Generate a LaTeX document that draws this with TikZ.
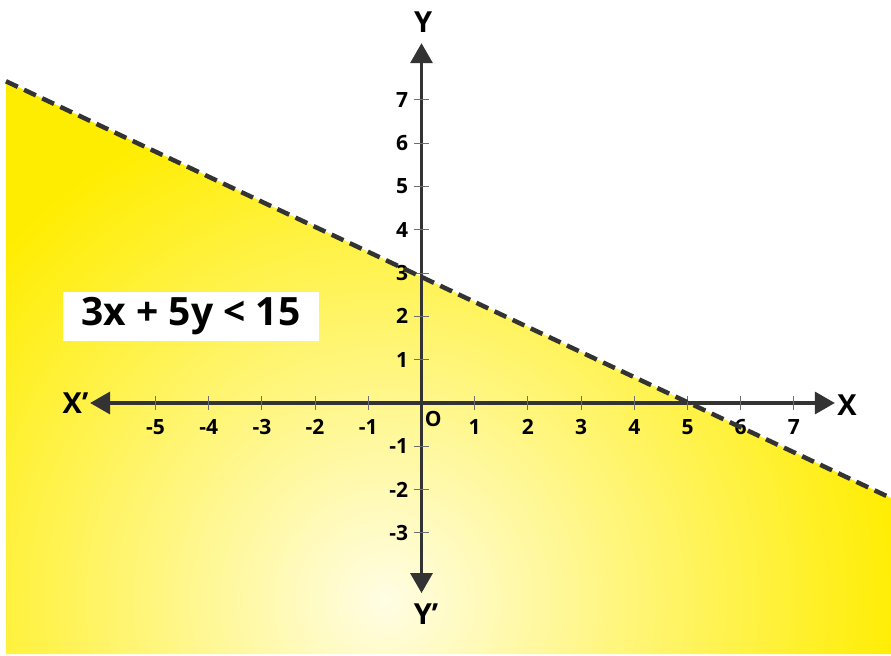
\documentclass[tikz,border=0pt]{standalone}
\usepackage{fontspec}
\setmainfont{Open Sans}
\usetikzlibrary{arrows.meta}
\definecolor{planeyellow}{RGB}{255,237,0}
\definecolor{planecream}{RGB}{255,253,228}
\definecolor{axisgray}{RGB}{51,51,51}
\definecolor{tickgray}{RGB}{110,110,110}

\begin{document}
\begin{tikzpicture}[x={(53.2pt,0pt)},y={(0pt,43.3pt)},
  axisline/.style={color=axisgray, line width=3.3pt, {Triangle[length=20pt,width=22pt]}-{Triangle[length=20pt,width=22pt]}},
  tickline/.style={color=tickgray, line width=1pt},
  boundary/.style={color=axisgray, line width=4.5pt, dash pattern=on 13pt off 7pt},
  ticklabel/.style={inner sep=0pt, font=\fontsize{21}{21}\selectfont\bfseries},
  axislabel/.style={inner sep=0pt, font=\fontsize{29}{29}\selectfont\bfseries}]
\useasboundingbox (-7.923,-5.82) rectangle (8.825,9.307);

\coordinate (lineL) at (-7.81,7.43);
\coordinate (lineR) at (8.825,-2.196);

% half plane 3x+5y<15
\begin{scope}
\clip (lineL) -- (lineR) -- (8.825,-5.797) -- (-7.81,-5.797) -- cycle;
\fill[planeyellow] (-7.81,-5.797) rectangle (8.825,7.43);
\shade[inner color=planecream, outer color=planeyellow] (-0.686,-4.55) circle (520pt);
\end{scope}

% axes
\coordinate (xneg) at (-6.23,0);
\coordinate (xpos) at (7.77,0);
\coordinate (yneg) at (0,-4.39);
\coordinate (ypos) at (0,8.31);
\draw[axisline] (xneg) -- (xpos);
\draw[axisline] (yneg) -- (ypos);

\draw[tickline] (-5,0) ++(0,-7pt) -- ++(0,14pt);
\draw[tickline] (-4,0) ++(0,-7pt) -- ++(0,14pt);
\draw[tickline] (-3,0) ++(0,-7pt) -- ++(0,14pt);
\draw[tickline] (-2,0) ++(0,-7pt) -- ++(0,14pt);
\draw[tickline] (-1,0) ++(0,-7pt) -- ++(0,14pt);
\draw[tickline] (1,0) ++(0,-7pt) -- ++(0,14pt);
\draw[tickline] (2,0) ++(0,-7pt) -- ++(0,14pt);
\draw[tickline] (3,0) ++(0,-7pt) -- ++(0,14pt);
\draw[tickline] (4,0) ++(0,-7pt) -- ++(0,14pt);
\draw[tickline] (5,0) ++(0,-7pt) -- ++(0,14pt);
\draw[tickline] (6,0) ++(0,-7pt) -- ++(0,14pt);
\draw[tickline] (7,0) ++(0,-7pt) -- ++(0,14pt);
\draw[tickline] (0,-3) ++(-8pt,0) -- ++(15pt,0);
\draw[tickline] (0,-2) ++(-8pt,0) -- ++(15pt,0);
\draw[tickline] (0,-1) ++(-8pt,0) -- ++(15pt,0);
\draw[tickline] (0,1) ++(-8pt,0) -- ++(15pt,0);
\draw[tickline] (0,2) ++(-8pt,0) -- ++(15pt,0);
\draw[tickline] (0,3) ++(-8pt,0) -- ++(15pt,0);
\draw[tickline] (0,4) ++(-8pt,0) -- ++(15pt,0);
\draw[tickline] (0,5) ++(-8pt,0) -- ++(15pt,0);
\draw[tickline] (0,6) ++(-8pt,0) -- ++(15pt,0);
\draw[tickline] (0,7) ++(-8pt,0) -- ++(15pt,0);

\node[ticklabel] (xm5) at (-5,-0.554) {-5};
\node[ticklabel] (xm4) at (-4,-0.554) {-4};
\node[ticklabel] (xm3) at (-3,-0.554) {-3};
\node[ticklabel] (xm2) at (-2,-0.554) {-2};
\node[ticklabel] (xm1) at (-1,-0.554) {-1};
\node[ticklabel] (xp1) at (1,-0.554) {1};
\node[ticklabel] (xp2) at (2,-0.554) {2};
\node[ticklabel] (xp3) at (3,-0.554) {3};
\node[ticklabel] (xp4) at (4,-0.554) {4};
\node[ticklabel] (xp5) at (5,-0.554) {5};
\node[ticklabel] (xp6) at (6,-0.554) {6};
\node[ticklabel] (xp7) at (7,-0.554) {7};
\node[ticklabel,anchor=east] (ym3) at (-0.25,-3) {-3};
\node[ticklabel,anchor=east] (ym2) at (-0.25,-2) {-2};
\node[ticklabel,anchor=east] (ym1) at (-0.25,-1) {-1};
\node[ticklabel,anchor=east] (yp1) at (-0.25,1) {1};
\node[ticklabel,anchor=east] (yp2) at (-0.25,2) {2};
\node[ticklabel,anchor=east] (yp3) at (-0.25,3) {3};
\node[ticklabel,anchor=east] (yp4) at (-0.25,4) {4};
\node[ticklabel,anchor=east] (yp5) at (-0.25,5) {5};
\node[ticklabel,anchor=east] (yp6) at (-0.25,6) {6};
\node[ticklabel,anchor=east] (yp7) at (-0.25,7) {7};
\node[ticklabel] (orig) at (0.22,-0.37) {O};

\node[axislabel] (xnegname) at (-6.504,0) {X’};
\node[axislabel] (xposname) at (7.998,-0.046) {X};
\node[axislabel] (yposname) at (0.03,8.79) {Y};
\node[axislabel] (ynegname) at (0.085,-4.873) {Y’};

% boundary line 3x+5y=15
\draw[boundary] (lineL) -- (lineR);

\node[fill=white, inner sep=0pt, minimum width=256pt, minimum height=49pt,
  font=\fontsize{39}{39}\selectfont\bfseries] (ineq) at (-4.333,2.0) {3x + 5y < 15};
\end{tikzpicture}
\end{document}
